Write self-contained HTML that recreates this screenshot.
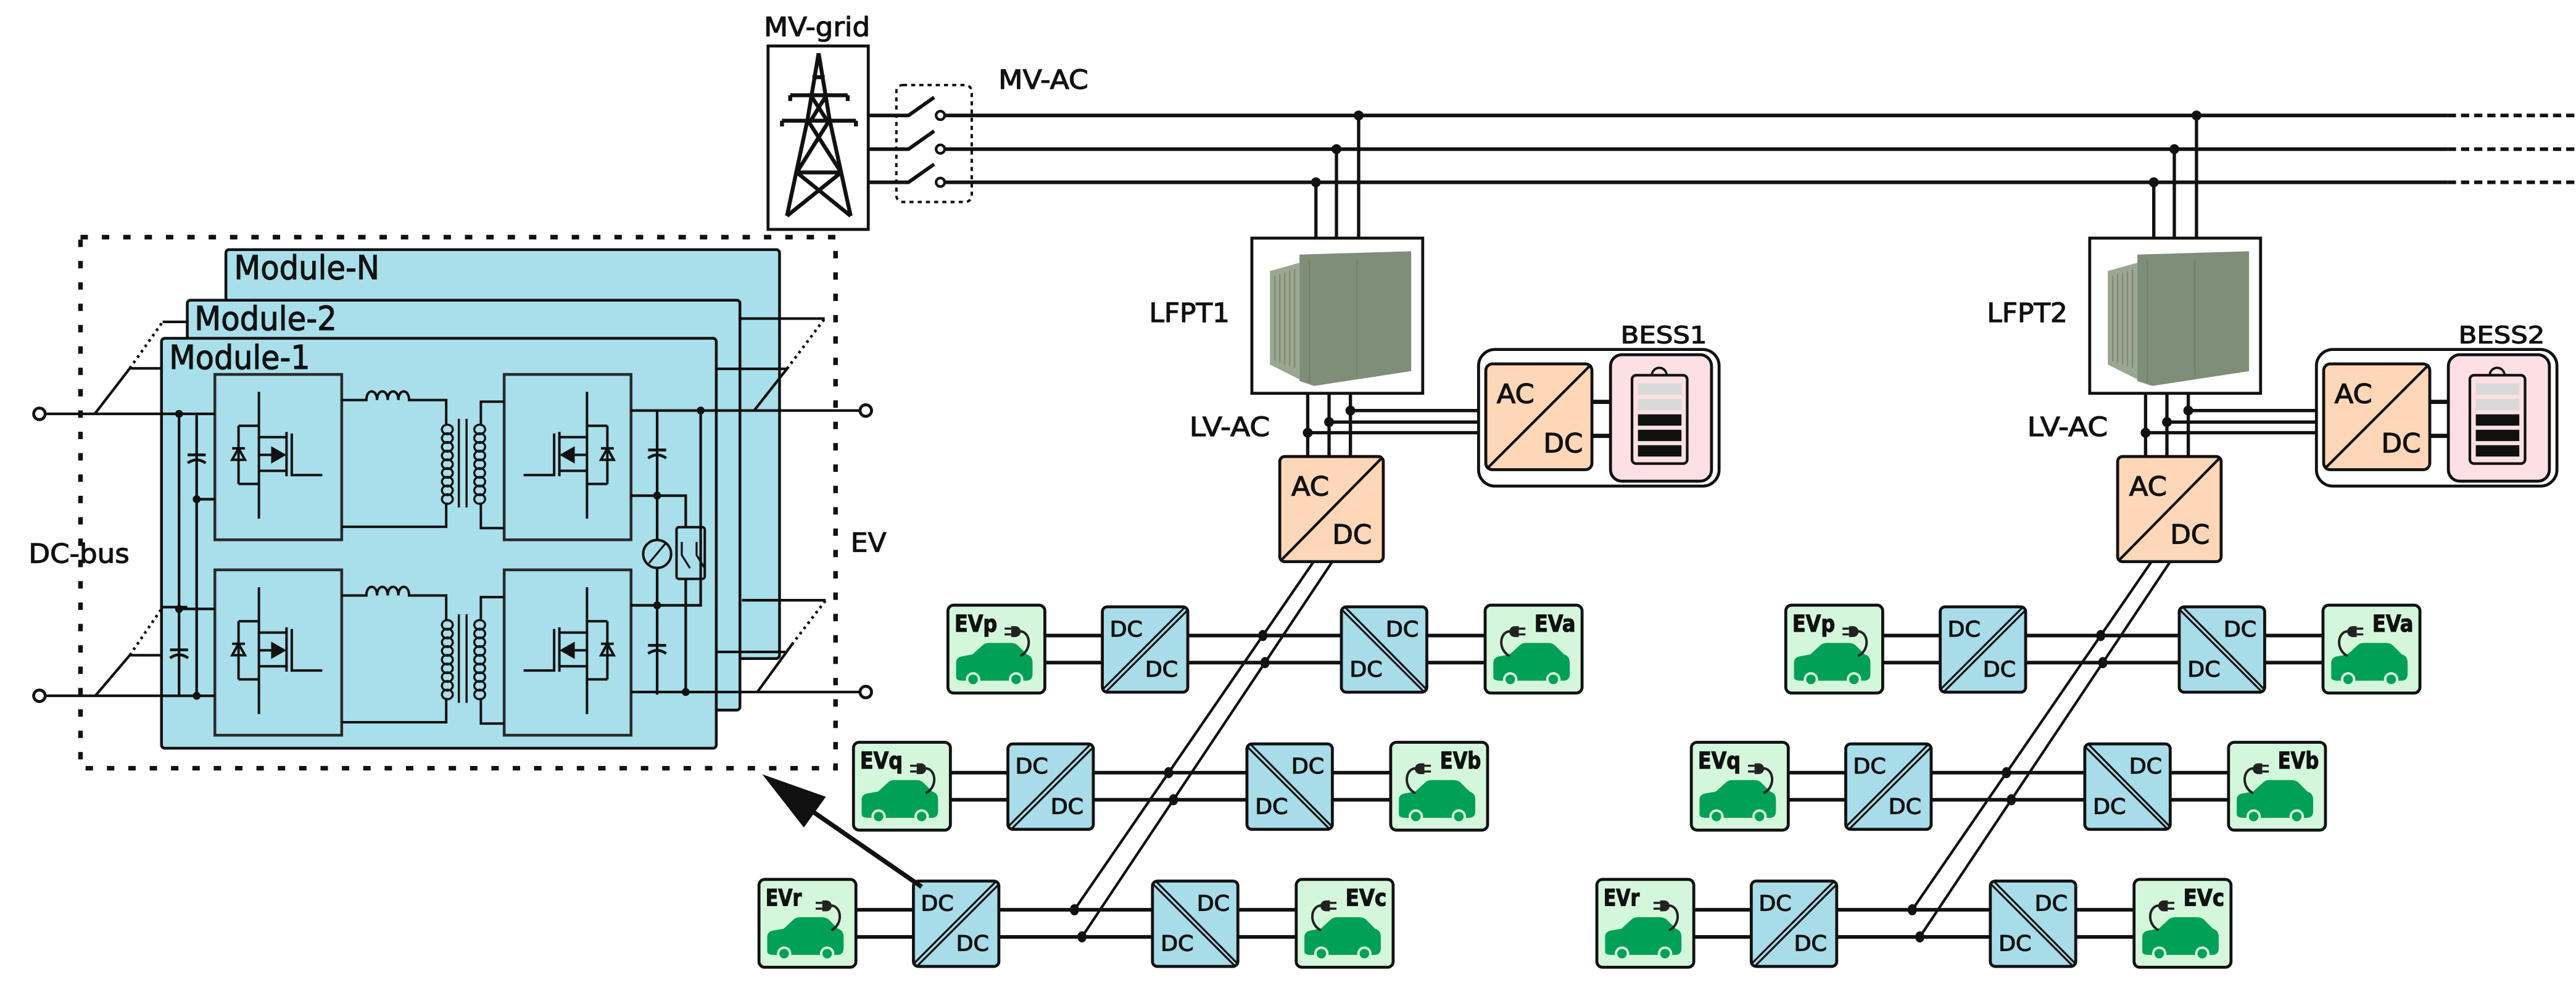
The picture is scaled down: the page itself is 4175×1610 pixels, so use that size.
<!DOCTYPE html>
<html><head><meta charset="utf-8"><style>
html,body{margin:0;padding:0;background:#fff;}
svg{display:block;}
text{font-family:"DejaVu Sans","Liberation Sans",sans-serif;fill:#111;stroke:#111;stroke-width:0.45px;}
</style></head><body>
<svg xmlns="http://www.w3.org/2000/svg" xmlns:xlink="http://www.w3.org/1999/xlink" width="4175" height="1610" viewBox="0 0 1568 604.67" preserveAspectRatio="none">
<defs>
 <g id="mos" fill="none" stroke="#111" stroke-width="1.5">
  <path d="M26.8,10.6V87.8 M14.4,31.3H26.8 M14.4,66.7H26.8 M14.4,31.3V66.7 M26.8,38.2H43.6 M26.8,58.7H43.6 M43.6,35V62 M46.8,36V61.3H65.4 M26.8,49H36 M10.5,45H18.3 M10.5,52H18.3L14.4,45Z"/>
  <path d="M35,45L42,49L35,53Z" fill="#111"/>
 </g>
 <g id="cap" fill="none" stroke="#111" stroke-width="1.7"><path d="M-5.5,-2H5.5 M-5.5,3Q0,-1 5.5,3"/></g>
 <g id="plug">
  <path d="M43,16 C50,15 52,27 44,31" fill="none" stroke="#222" stroke-width="1.5"/>
  <path d="M38.5,12.8 H41 A3.3,3.3 0 0 1 41,19.4 H38.5 Z" fill="#222"/>
  <path d="M34.5,14.3H38.5 M34.5,17.8H38.5" stroke="#222" stroke-width="1.3"/>
 </g>
 <g id="car">
  <path d="M5,44 L5,35 Q5,31.5 9.5,31 L15,30 L21,24.5 Q22.5,23 25,23 L38,23 Q41,23 42.5,24.5 L48,30 Q51.5,31 51.5,35 L51.5,42 Q51.5,46 47.5,46 L9.5,46 Q5,46 5,44 Z" fill="#00a056"/>
  <circle cx="15.3" cy="45.2" r="4.4" fill="#d4f7dc"/><circle cx="15.3" cy="45.2" r="2.9" fill="#00a056"/>
  <circle cx="41.5" cy="45.2" r="4.4" fill="#d4f7dc"/><circle cx="41.5" cy="45.2" r="2.9" fill="#00a056"/>
 </g>
 <g id="evL">
  <rect x="0" y="0" width="59" height="53.5" rx="3.5" fill="#d4f7dc" stroke="#111" stroke-width="1.8"/>
  <use xlink:href="#car"/><use xlink:href="#plug"/>
 </g>
 <g id="evR">
  <rect x="0" y="0" width="59" height="53.5" rx="3.5" fill="#d4f7dc" stroke="#111" stroke-width="1.8"/>
  <use xlink:href="#car"/><use xlink:href="#plug" transform="translate(59,0) scale(-1,1)"/>
 </g>
 <g id="dcL">
  <rect x="0" y="0" width="52" height="52" rx="3" fill="#a8dce9" stroke="#111" stroke-width="1.8"/>
  <path d="M0,50.5 L50.5,0 M2,52 L52,2" stroke="#111" stroke-width="1.2"/>
  <text x="4.5" y="18" font-size="13" textLength="20" lengthAdjust="spacingAndGlyphs">DC</text>
  <text x="26" y="42.5" font-size="13" textLength="20" lengthAdjust="spacingAndGlyphs">DC</text>
 </g>
 <g id="dcR">
  <rect x="0" y="0" width="52" height="52" rx="3" fill="#a8dce9" stroke="#111" stroke-width="1.8"/>
  <path d="M0,1.5 L50.5,52 M2,0 L52,50.5" stroke="#111" stroke-width="1.2"/>
  <text x="27" y="18" font-size="13" textLength="20" lengthAdjust="spacingAndGlyphs">DC</text>
  <text x="5" y="42.5" font-size="13" textLength="20" lengthAdjust="spacingAndGlyphs">DC</text>
 </g>
 <g id="row">
  <path d="M636,387H671 M723,387H816.5 M868.5,387H904 M636,403.5H671 M723,403.5H816.5 M868.5,403.5H904" stroke="#111" stroke-width="2.2"/>
  <use xlink:href="#evL" x="577" y="368.5"/>
  <use xlink:href="#dcL" x="671" y="369.5"/>
  <use xlink:href="#dcR" x="816.5" y="369.5"/>
  <use xlink:href="#evR" x="904" y="368.5"/>
 </g>
 <g id="site">
  <path d="M801,111V145 M813.5,90.8V145 M827,70.3V145" stroke="#111" stroke-width="2"/>
  <circle cx="801" cy="111" r="3" fill="#111"/><circle cx="813.5" cy="90.8" r="3" fill="#111"/><circle cx="827" cy="70.3" r="3" fill="#111"/>
  <rect x="762" y="145" width="104" height="94.5" fill="#fff" stroke="#111" stroke-width="1.8"/>
  <polygon points="773,165 791,160 791,231 773,222" fill="#9aa791"/>
  <path d="M776,168V220 M779,167V221 M782,166V222 M785,165V223 M788,164V224" stroke="#7c8874" stroke-width="0.8"/>
  <polygon points="791,155 859,153 859,226 800,235 791,232" fill="#7e8e79"/>
  <path d="M826,158V229 M797,158V233" stroke="#6f7e6a" stroke-width="0.6"/>
  <path d="M796,239.5V278 M809,239.5V278 M822,239.5V278 M822,250H900 M809,257H900 M796,263.5H900" stroke="#111" stroke-width="2"/>
  <circle cx="822" cy="250" r="3" fill="#111"/><circle cx="809" cy="257" r="3" fill="#111"/><circle cx="796" cy="263.5" r="3" fill="#111"/>
  <rect x="779" y="278" width="63" height="64" rx="3" fill="#fdd7b8" stroke="#111" stroke-width="1.8"/>
  <path d="M779.5,341.5 L841.5,278.5" stroke="#111" stroke-width="1.6"/>
  <text x="786" y="301.8" font-size="16" textLength="23" lengthAdjust="spacingAndGlyphs">AC</text>
  <text x="811" y="331" font-size="16" textLength="24" lengthAdjust="spacingAndGlyphs">DC</text>
  <text x="724" y="265.5" font-size="16" textLength="49" lengthAdjust="spacingAndGlyphs">LV-AC</text>
  <rect x="900" y="212.8" width="146.4" height="83.2" rx="10" fill="#fff" stroke="#111" stroke-width="1.8"/>
  <rect x="904.4" y="221.6" width="64.6" height="64.4" rx="4" fill="#fdd7b8" stroke="#111" stroke-width="1.8"/>
  <path d="M905,285.5 L968.5,222" stroke="#111" stroke-width="1.6"/>
  <text x="911" y="245.5" font-size="16" textLength="23" lengthAdjust="spacingAndGlyphs">AC</text>
  <text x="939.5" y="275.5" font-size="16" textLength="24" lengthAdjust="spacingAndGlyphs">DC</text>
  <path d="M969,244.7H980.3 M969,265.4H980.3" stroke="#111" stroke-width="2.6"/>
  <rect x="980.3" y="216" width="61.5" height="77" rx="7" fill="#fde0e3" stroke="#111" stroke-width="1.8"/>
  <path d="M1005.5,228.5 A4.5,4.5 0 0 1 1014.5,228.5" fill="none" stroke="#111" stroke-width="1.4"/>
  <rect x="993.4" y="228.5" width="33.6" height="53.8" rx="2.5" fill="#fde0e3" stroke="#111" stroke-width="1.6"/>
  <rect x="997" y="233.5" width="26.5" height="6.9" fill="#d9d9d9"/>
  <rect x="997" y="242.9" width="26.5" height="6.9" fill="#d9d9d9"/>
  <rect x="997" y="252.3" width="26.5" height="6.9" fill="#111"/>
  <rect x="997" y="261.7" width="26.5" height="6.9" fill="#111"/>
  <rect x="997" y="271.1" width="26.5" height="6.9" fill="#111"/>
  <use xlink:href="#row"/>
  <use xlink:href="#row" transform="translate(-57.5,83.5)"/>
  <use xlink:href="#row" transform="translate(-115,167)"/>
  <path d="M799.6,342 L654,554 M811,342 L658.6,570.5" stroke="#111" stroke-width="1.6"/>
  <g fill="#111">
   <ellipse cx="768.7" cy="387" rx="2.8" ry="3.4"/><ellipse cx="711.3" cy="470.5" rx="2.8" ry="3.4"/><ellipse cx="654" cy="554" rx="2.8" ry="3.4"/>
   <ellipse cx="770" cy="403.5" rx="2.8" ry="3.4"/><ellipse cx="714.3" cy="487" rx="2.8" ry="3.4"/><ellipse cx="658.6" cy="570.5" rx="2.8" ry="3.4"/>
  </g>
  <g font-size="14" font-weight="bold">
   <text x="581" y="384.5" textLength="26" lengthAdjust="spacingAndGlyphs">EVp</text>
   <text x="523.5" y="468" textLength="26" lengthAdjust="spacingAndGlyphs">EVq</text>
   <text x="466" y="551.5" textLength="22" lengthAdjust="spacingAndGlyphs">EVr</text>
   <text x="934" y="384.5" textLength="25" lengthAdjust="spacingAndGlyphs">EVa</text>
   <text x="876.5" y="468" textLength="25" lengthAdjust="spacingAndGlyphs">EVb</text>
   <text x="819" y="551.5" textLength="25" lengthAdjust="spacingAndGlyphs">EVc</text>
  </g>
 </g>
</defs>

<rect x="49" y="144.4" width="459.6" height="323.4" fill="none" stroke="#111" stroke-width="2.8" stroke-dasharray="4.5 8.5"/>
<rect x="137.5" y="152" width="337" height="249" rx="2" fill="#a8dfea" stroke="#111" stroke-width="1.7"/>
<rect x="114" y="182.8" width="336.4" height="249.6" rx="2" fill="#a8dfea" stroke="#111" stroke-width="1.7"/>
<rect x="98.3" y="206" width="337.7" height="249.6" rx="2" fill="#a8dfea" stroke="#111" stroke-width="1.7"/>
<g style="stroke-width:0.5px">
<text x="142.5" y="170" font-size="20" textLength="88.5" lengthAdjust="spacingAndGlyphs">Module-N</text>
<text x="118.4" y="201" font-size="20" textLength="86.6" lengthAdjust="spacingAndGlyphs">Module-2</text>
<text x="103" y="224.6" font-size="20" textLength="85.8" lengthAdjust="spacingAndGlyphs">Module-1</text>
</g>
<g fill="#a8dfea" stroke="#2a2a2a" stroke-width="1.7">
 <rect x="130.8" y="228" width="77.2" height="100.7"/>
 <rect x="306.9" y="228" width="77.2" height="100.7"/>
 <rect x="130.8" y="347" width="77.2" height="100.7"/>
 <rect x="306.9" y="347" width="77.2" height="100.7"/>
</g>
<use xlink:href="#mos" transform="translate(130.8,228)"/>
<use xlink:href="#mos" transform="translate(130.8,347)"/>
<use xlink:href="#mos" transform="translate(384.1,228) scale(-1,1)"/>
<use xlink:href="#mos" transform="translate(384.1,347) scale(-1,1)"/>
<g id="xf" fill="none" stroke="#111" stroke-width="1.5">
 <path d="M208,243.6H223 c0,-7 6.5,-7 6.5,0 c0,-7 6.5,-7 6.5,0 c0,-7 6.5,-7 6.5,0 c0,-7 6.5,-7 6.5,0 H271.6V258.7 M271.6,306V320.8H208"/>
 <path d="M279.3,255V309 M284,255V309" stroke-width="1.3"/>
 <path d="M292.7,258V244.6H306.9 M292.7,306V321.6H306.9"/>
 <g stroke-width="1.3">
  <ellipse cx="272.3" cy="261.5" rx="3.3" ry="2.9"/><ellipse cx="272.3" cy="266.8" rx="3.3" ry="2.9"/><ellipse cx="272.3" cy="272.1" rx="3.3" ry="2.9"/><ellipse cx="272.3" cy="277.4" rx="3.3" ry="2.9"/><ellipse cx="272.3" cy="282.7" rx="3.3" ry="2.9"/><ellipse cx="272.3" cy="288" rx="3.3" ry="2.9"/><ellipse cx="272.3" cy="293.3" rx="3.3" ry="2.9"/><ellipse cx="272.3" cy="298.6" rx="3.3" ry="2.9"/><ellipse cx="272.3" cy="303.9" rx="3.3" ry="2.9"/>
  <ellipse cx="292" cy="261.5" rx="3.3" ry="2.9"/><ellipse cx="292" cy="266.8" rx="3.3" ry="2.9"/><ellipse cx="292" cy="272.1" rx="3.3" ry="2.9"/><ellipse cx="292" cy="277.4" rx="3.3" ry="2.9"/><ellipse cx="292" cy="282.7" rx="3.3" ry="2.9"/><ellipse cx="292" cy="288" rx="3.3" ry="2.9"/><ellipse cx="292" cy="293.3" rx="3.3" ry="2.9"/><ellipse cx="292" cy="298.6" rx="3.3" ry="2.9"/><ellipse cx="292" cy="303.9" rx="3.3" ry="2.9"/>
 </g>
</g>
<use xlink:href="#xf" transform="translate(0,119)"/>
<g stroke="#111" stroke-width="1.6" fill="none">
 <path d="M27.5,252H130.8 M27.5,423.7H130.8 M109,252V423.7 M119.7,252V423.7 M119.7,304H130.8 M109,370.8H130.8"/>
 <path d="M57.7,252L79,224.3H98.3 M58,423.7L79,399H98.3 M99,196H114 M99,369.7H114"/>
 <path d="M79,224.3L99,196 M79,399L99,369.7" stroke-dasharray="1.6 2.4" stroke-width="1.7"/>
 <path d="M384,250H523.5 M384,421.4H523.5 M400,250V423 M426.5,250V368.6H384 M384,301.8H417.4V321 M417.4,352.5V421.4"/>
 <path d="M459,250L479,224.6H436 M461,421.4L482,392.5 M478,397H436 M450.4,194H502 M451.6,365.5H502.6"/>
 <path d="M479,224.6L502,194 M482,392.5L502.6,365.5" stroke-dasharray="1.6 2.4" stroke-width="1.7"/>
 <rect x="411.8" y="321" width="17.2" height="31.5" rx="1.5" stroke-width="1.5"/>
 <path d="M415,330V338 L420,346 M424,330V338 L429,346" stroke-width="1.2"/>
 <circle cx="400" cy="337.3" r="8.5" fill="#a8dfea" stroke-width="1.5"/>
 <path d="M395,343 L405,331" stroke-width="1.2"/>
</g>
<use xlink:href="#cap" transform="translate(119.7,279)"/>
<use xlink:href="#cap" transform="translate(109,397.7)"/>
<use xlink:href="#cap" transform="translate(400,276)"/>
<use xlink:href="#cap" transform="translate(400,395)"/>
<g fill="#111">
 <circle cx="109" cy="252" r="2.4"/><circle cx="109" cy="370.8" r="2.4"/><circle cx="119.7" cy="304" r="2.4"/><circle cx="119.7" cy="423.7" r="2.4"/>
 <circle cx="426.5" cy="250" r="2.4"/><circle cx="400" cy="301.8" r="2.4"/><circle cx="400" cy="368.6" r="2.4"/><circle cx="417.4" cy="421.4" r="2.4"/>
</g>
<g fill="#fff" stroke="#111" stroke-width="1.8">
 <circle cx="24" cy="252" r="3.5"/><circle cx="24" cy="423.7" r="3.5"/><circle cx="527" cy="250" r="3.5"/><circle cx="527" cy="421.4" r="3.5"/>
</g>
<text x="17.4" y="342.7" font-size="16" textLength="61.4" lengthAdjust="spacingAndGlyphs">DC-bus</text>
<text x="517.8" y="336" font-size="16" textLength="21.7" lengthAdjust="spacingAndGlyphs">EV</text>

<text x="465" y="22" font-size="16" textLength="64.6" lengthAdjust="spacingAndGlyphs">MV-grid</text>
<rect x="467.5" y="28" width="61" height="111.7" fill="#fff" stroke="#111" stroke-width="1.8"/>
<path d="M498.3,32.4 L491.5,73 L479,131.5 M498.3,32.4 L505,73 L517.8,131.5 M481,58H516 M476,73.5H521 M481,58v3.5 M516,58v3.5 M476,73.5v3.5 M521,73.5v3.5 M493.5,58 L503.5,73.5 M503,58 L493.5,73.5 M491.5,73 L512,105 M505,73 L485,105 M485,105 L517.8,131.5 M512,105 L479,131.5 M485,105H512 M494.5,47H502" fill="none" stroke="#111" stroke-width="2.4"/>
<rect x="545.6" y="51.8" width="45.9" height="71.2" rx="4" fill="none" stroke="#111" stroke-width="1.5" stroke-dasharray="2.5 2.5"/>
<text x="607.7" y="54" font-size="16" textLength="54.8" lengthAdjust="spacingAndGlyphs">MV-AC</text>
<g stroke="#111" stroke-width="2.2" fill="none">
 <path d="M528.5,70.3H553L568.6,59.3 M528.5,90.8H553L568.6,79.8 M528.5,111H553L568.6,100"/>
 <path d="M575,70.3H1490 M575,90.8H1490 M575,111H1490"/>
 <path d="M1490,70.3H1568 M1490,90.8H1568 M1490,111H1568" stroke-dasharray="5 3"/>
 <circle cx="572.4" cy="70.3" r="2.6" fill="#fff" stroke-width="1.6"/><circle cx="572.4" cy="90.8" r="2.6" fill="#fff" stroke-width="1.6"/><circle cx="572.4" cy="111" r="2.6" fill="#fff" stroke-width="1.6"/>
</g>

<use xlink:href="#site"/>
<use xlink:href="#site" transform="translate(510,0)"/>
<g>
<text x="699.5" y="196" font-size="16" textLength="49" lengthAdjust="spacingAndGlyphs">LFPT1</text>
<text x="1209.5" y="196" font-size="16" textLength="49" lengthAdjust="spacingAndGlyphs">LFPT2</text>
<text x="986.5" y="209" font-size="14.5" textLength="52.5" lengthAdjust="spacingAndGlyphs">BESS1</text>
<text x="1496.5" y="209" font-size="14.5" textLength="52.5" lengthAdjust="spacingAndGlyphs">BESS2</text>
</g>

<path d="M561,540 L493,493" stroke="#111" stroke-width="2.8"/>
<polygon points="464,471.5 502.7,485.2 489.3,503.9" fill="#111"/>
</svg>
</body></html>
